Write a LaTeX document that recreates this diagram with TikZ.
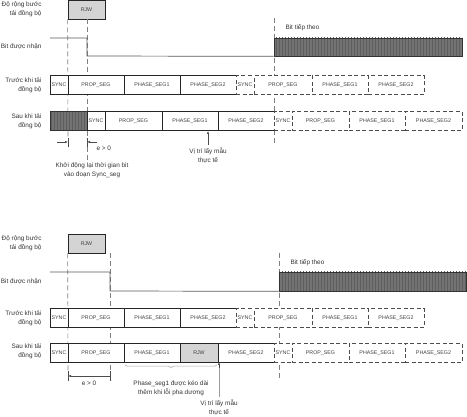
\documentclass[tikz,border=0pt]{standalone}
\usepackage{fontspec}
\setmainfont{Liberation Sans}
\usetikzlibrary{arrows.meta,patterns,decorations.pathreplacing}

\tikzset{
  seg/.style={draw=black!85, fill=white, line width=0.7pt, minimum height=18.5pt,
    inner sep=0pt, font=\fontsize{5.3}{6}\selectfont, text=black!75},
  dseg/.style={seg, draw=black!70, line width=0.8pt, dash pattern=on 4pt off 2.5pt},
  rjwseg/.style={seg, fill=black!17},
  bitbox/.style={draw=black!80, line width=0.7pt, inner sep=0pt,
    preaction={fill=black!55}, pattern=vertical lines, pattern color=black!63},
  darkseg/.style={bitbox, minimum height=18.5pt},
  rowlabel/.style={anchor=east, align=right, font=\fontsize{6.4}{8.8}\selectfont, text=black!80},
  note/.style={align=center, font=\fontsize{6.4}{8.8}\selectfont, text=black!80},
  guide/.style={draw=black!50, line width=0.6pt, dash pattern=on 5pt off 3pt},
  bitline/.style={draw=black!65, line width=0.7pt},
  tip/.style={-{Latex[length=3pt,width=2.4pt]}, black!70, line width=0.5pt},
}

% one row of segments: y, list of start/end/text/style
\newcommand{\segrow}[2]{%
  \foreach \a/\b/\t/\s in {#2}{%
    \pgfmathsetmacro{\w}{\b-\a}%
    \node[\s, minimum width=\w pt] (r#1s\a) at ({(\a+\b)/2},#1) {\t};}}

\begin{document}
\begin{tikzpicture}[x=1pt, y=-1pt]
  \useasboundingbox (0,0) rectangle (467,417);

  % ---- upper case: edge inside the RJW window ----
  \node[rjwseg, minimum width=37pt, minimum height=19pt] (rjw1) at (86.5,9.5) {RJW};
  \node[rowlabel] (lw1) at (45,9.5) {Độ rộng bước\\tải đồng bộ};
  \node[rowlabel] (lb1) at (45,47) {Bit được nhận};
  \node[rowlabel] (la1) at (45,85) {Trước khi tải\\đồng bộ};
  \node[rowlabel] (lc1) at (45,121) {Sau khi tải\\đồng bộ};

  % guides
  \draw[guide] (rjw1.south west) -- (68,138);
  \draw[guide] (87,19) -- (87,162);
  \draw[guide] (274,18) -- (274,143);

  % received bit
  \node[bitbox, minimum width=188pt, minimum height=18pt] (next1) at (368,47) {};
  \node[note, anchor=west] (nt1) at (282,28) {Bit tiếp theo};
  \draw[bitline] (50,38) -| (87,56) -- (next1.south west);

  \segrow{85}{50/68/SYNC/seg, 68/124/PROP\_SEG/seg, 124/180/PHASE\_SEG1/seg,
    180/236/PHASE\_SEG2/seg, 236/254/SYNC/dseg, 254/312/PROP\_SEG/dseg,
    312/368/PHASE\_SEG1/dseg, 368/424/PHASE\_SEG2/dseg}
  \segrow{121}{50/87//darkseg, 87/105/SYNC/seg, 105/162/PROP\_SEG/seg,
    162/218/PHASE\_SEG1/seg, 218/274/PHASE\_SEG2/seg, 274/292/SYNC/dseg,
    292/349/PROP\_SEG/dseg, 349/405/PHASE\_SEG1/dseg, 405/462/PHASE\_SEG2/dseg}

  % notes
  \draw[black!70, line width=0.5pt] (68,138) -- (68,147);
  \draw[black!70, line width=0.5pt] (87,138) -- (87,147);
  \draw[tip] (57,142) -- (68,142);
  \draw[tip] (97,142) -- (87,142);
  \node[note, anchor=west] (e1) at (93,148) {e > 0};
  \node[note] (rs1) at (92,170) {Khởi động lại thời gian bit\\vào đoạn Sync\_seg};
  \node[note] (sp1) at (208,156) {Vị trí lấy mẫu\\thực tế};
  \draw[tip] (sp1.north) -- (208,131);

  % ---- lower case: Phase_seg1 lengthened ----
  \node[rjwseg, minimum width=37pt, minimum height=19pt] (rjw2) at (86.5,243.5) {RJW};
  \node[rowlabel] (lw2) at (45,243.5) {Độ rộng bước\\tải đồng bộ};
  \node[rowlabel] (lb2) at (45,282) {Bit được nhận};
  \node[rowlabel] (la2) at (45,318) {Trước khi tải\\đồng bộ};
  \node[rowlabel] (lc2) at (45,351) {Sau khi tải\\đồng bộ};

  % guides
  \draw[guide] (rjw2.south west) -- (68,371);
  \draw[guide] (110,253) -- (110,371);
  \draw[guide] (279,253) -- (279,378);

  % received bit
  \node[bitbox, minimum width=187pt, minimum height=19pt] (next2) at (372.5,281.5) {};
  \node[note, anchor=west] (nt2) at (287,263) {Bit tiếp theo};
  \draw[bitline] (50,272) -| (110,291) -- (next2.south west);

  \segrow{318}{50/68/SYNC/seg, 68/124/PROP\_SEG/seg, 124/180/PHASE\_SEG1/seg,
    180/236/PHASE\_SEG2/seg, 236/254/SYNC/dseg, 254/312/PROP\_SEG/dseg,
    312/368/PHASE\_SEG1/dseg, 368/424/PHASE\_SEG2/dseg}
  \segrow{353}{50/68/SYNC/seg, 68/124/PROP\_SEG/seg, 124/180/PHASE\_SEG1/seg,
    180/218/RJW/rjwseg, 218/274/PHASE\_SEG2/seg, 274/292/SYNC/dseg,
    292/349/PROP\_SEG/dseg, 349/405/PHASE\_SEG1/dseg, 405/462/PHASE\_SEG2/dseg}

  % notes
  \draw[black!70, line width=0.5pt] (68,371) -- (68,381);
  \draw[black!70, line width=0.5pt] (110,371) -- (110,381);
  \draw[tip, {Latex[length=3pt,width=2.4pt]}-] (68,376) -- (110,376);
  \node[note] (e2) at (89,383) {e > 0};
  \draw[decorate, decoration={brace, mirror, amplitude=2.5pt}, black!35, line width=0.5pt]
    (125,365) -- (217,365);
  \node[note] (ph2) at (171,388) {Phase\_seg1 được kéo dài\\thêm khi lỗi pha dương};
  \node[note] (sp2) at (219,408) {Vị trí lấy mẫu\\thực tế};
  \draw[black!40, line width=0.5pt] (sp2.north) -- (219,368);
  \draw[tip] (219,368) -- (219,362);
\end{tikzpicture}
\end{document}
